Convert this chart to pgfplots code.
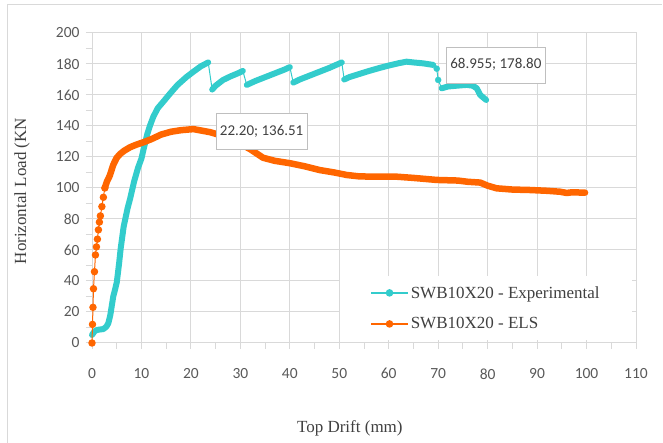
\documentclass[border=0pt]{standalone}
\usepackage{pgfplots}
\pgfplotsset{compat=1.18}
\usepackage{fontspec}
\setmainfont{Liberation Serif}
\newfontfamily\carlito{Carlito}
\definecolor{cyanc}{RGB}{51,204,204}
\definecolor{orangec}{RGB}{255,102,0}
\definecolor{gridc}{RGB}{217,217,217}
\definecolor{tickc}{RGB}{89,89,89}
\definecolor{textc}{RGB}{64,64,64}
\definecolor{boxc}{RGB}{191,191,191}
\begin{document}
\begin{tikzpicture}[x=1pt,y=1pt]
\useasboundingbox (0,0) rectangle (663,443);
\draw[gridc, line width=1pt] (7,0) -- (7,438) -- (662,438);
\begin{axis}[
  at={(92pt,100pt)}, anchor=south west,
  scale only axis, width=544pt, height=310pt,
  xmin=0, xmax=110, ymin=0, ymax=200,
  xtick={0,10,...,110}, ytick={0,20,...,200},
  minor x tick num=1, minor y tick num=1,
  grid=major, major grid style={gridc, line width=1pt},
  axis line style={gridc, line width=1pt},
  every tick/.style={gridc, line width=1pt},
  tick align=outside, tick pos=left,
  major tick length=6pt, minor tick length=6pt,
  /pgf/number format/assume math mode=true,
  tick label style={font=\carlito\fontsize{15.5}{15.5}\selectfont, text=tickc},
  xticklabel style={yshift=-16pt},
  yticklabel style={xshift=-3pt},
  xlabel={Top Drift (mm)}, ylabel={Horizontal Load (KN},
  label style={font=\fontsize{17}{17}\selectfont, text=textc},
  xlabel style={at={(axis description cs:0.474,0)}, anchor=center, yshift=-85pt},
  ylabel style={at={(axis description cs:-0.1287,0.49)}, anchor=center},
  legend style={at={(axis description cs:0.456,0.216)}, anchor=north west,
    draw=none, fill=white, font=\fontsize{17}{17}\selectfont, text=textc,
    cells={anchor=west}, inner xsep=30pt, inner ysep=8pt, row sep=14pt},
  legend image code/.code={\draw[mark repeat=2,mark phase=2,#1] plot coordinates {(0pt,0pt)(18.5pt,0pt)(37pt,0pt)};},
  clip=false,
]
% Experimental: thin connecting line + thick segments
\addplot[cyanc, line width=1pt, forget plot] coordinates {
(0,5.2)(1,8.4)(2.3,9)(3.3,12.7)(4.3,30)(5.0,39)(6.1,68)(7.7,93)(10,119)(13.3,151.5)(19.1,171.6)(23.5,181)
(24.3,163.5)(26.5,169.7)(30.5,175.5)
(31.3,166.5)(35,171.5)(40,178)
(40.7,168)(45,173.5)(50.5,181)
(51,170)(58.2,177.5)(63.6,181.5)(67,180.4)(69,179.4)(69.7,177)(70,169.7)
(70.7,164.3)(73.1,165.8)(75.8,166.5)(77.8,164.3)(78.5,160)(79.7,156.8)
};
\addplot[cyanc, line width=6pt, line join=round, line cap=round, unbounded coords=jump, forget plot] coordinates {
(0,5.2)(0.5,7.5)(1,8.4)(1.6,8.7)(2.3,9)(2.9,10.5)(3.3,12.7)(3.7,18)(4.0,24)(4.3,30)(4.7,35)(5.0,39)
(5.2,44)(5.5,52)(5.8,61)(6.1,68)(6.4,75)(6.8,81)(7.2,87)(7.7,93)(8.5,104)(9.3,113)(10,119)(10.5,126)
(11.2,135)(11.7,140)(12.4,146)(13.3,151.5)(14.5,156)(15.8,161)(17.3,166.5)(19.1,171.6)(20.5,175)(22,178.5)(23.5,181)
(24,nan)
(24.3,163.5)(25,166)(26.5,169.7)(28,172)(29.5,174)(30.5,175.5)
(31,nan)
(31.3,166.5)(33,169)(35,171.5)(37,174)(39,176.5)(40,178)
(40.3,nan)
(40.7,168)(42,170)(44,172.5)(46,175)(48,177.5)(50.5,181)
(50.8,nan)
(51,170)(52,171.5)(54,173.5)(56,175.5)(58.2,177.5)(60,179)(62,180.5)(63.6,181.5)(65,181)(67,180.4)(69,179.4)
(69.5,nan)
(70.7,164.3)(72,165.5)(73.1,165.8)(74.5,166.2)(75.8,166.5)(77,166)(77.8,164.3)(78.5,160)(79.7,156.8)
};
\addplot[cyanc, only marks, mark=*, mark size=3pt, forget plot] coordinates {(70,169.7)(69.7,177)};
% ELS
\addplot[orangec, line width=6.5pt, line join=round, line cap=round, forget plot] coordinates {
(2.6,100)(3,104)(3.6,108)(4.3,115)(5,119.5)(5.7,122)(6.5,124)(7.7,126.3)(9,128)(10.4,129.5)(12,131.5)
(14,134.5)(16,136.3)(18,137.3)(20.5,138)(22.2,137)(23.9,136)(26,134)(28,131.5)(30,128.5)(32,125)
(34.6,119.5)(37,117.5)(40,116)(43,114)(46,111.6)(49,110)(51.5,108.4)(54,107.5)(57,107.3)(61.6,107.3)
(65,106.5)(69.7,105.2)(74,104.8)(76,104)(78.5,103.5)(80,101.5)(81.8,99.8)(85,99)(88.6,98.7)(92,98.2)
(94.6,97.6)(96,96.8)(97,97.2)(99.7,97)
};
\addplot[orangec, line width=1pt, mark=*, mark size=3.2pt, forget plot] coordinates {
(0,0)(0.1,12)(0.2,23)(0.3,35)(0.5,46)(0.7,56.8)(0.9,62)(1.1,67)(1.3,73)(1.5,78)(1.7,82)(2,88)(2.3,94)(2.6,100)
};
\addlegendimage{cyanc, line width=1.5pt, mark=*, mark size=3pt}
\addlegendentry{SWB10X20 - Experimental}
\addlegendimage{orangec, line width=1.5pt, mark=*, mark size=3pt}
\addlegendentry{SWB10X20 - ELS}
\node[fill=white, draw=boxc, text=textc, font=\carlito\fontsize{15}{15}\selectfont, minimum height=36pt, inner xsep=4pt] at (axis cs:81.66,179.5) {68.955; 178.80};
\node[fill=white, draw=boxc, text=textc, font=\carlito\fontsize{15}{15}\selectfont, minimum height=36pt, inner xsep=4pt] at (axis cs:34.3,136.6) {22.20; 136.51};
\end{axis}
\end{tikzpicture}
\end{document}
